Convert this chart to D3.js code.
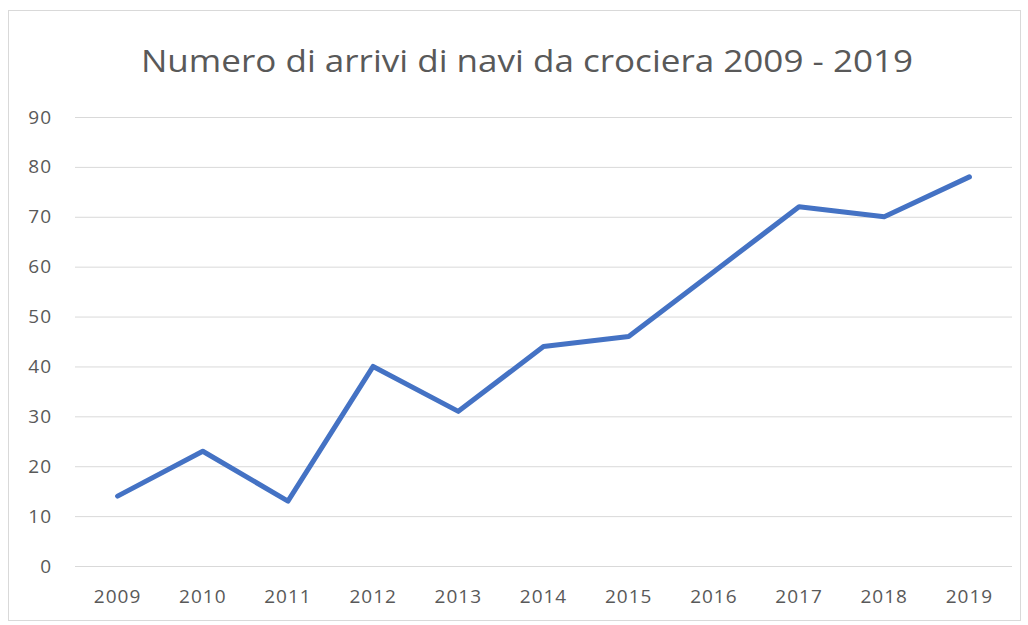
<!DOCTYPE html>
<html><head><meta charset="utf-8">
<script src="https://cdn.jsdelivr.net/npm/d3@7"></script>
<style>body{margin:0;background:#fff}svg{display:block}</style>
</head><body>
<svg id="c" width="1028" height="625"></svg>
<script>
const years = ["2009","2010","2011","2012","2013","2014","2015","2016","2017","2018","2019"];
const arrivals = [14, 23, 13, 40, 31, 44, 46, 59, 72, 70, 78];
const yTicks = [0,10,20,30,40,50,60,70,80,90];
const title = "Numero di arrivi di navi da crociera 2009 - 2019";

const svg = d3.select("#c");
const m = {left:75, right:1012, top:117, bottom:566};
const font = "'Open Sans', sans-serif";

svg.append("rect").attr("x",8.5).attr("y",10.5).attr("width",1012).attr("height",610)
  .attr("fill","#fff").attr("stroke","#d9d9d9").attr("stroke-width",1);

svg.append("text").attr("x",527).attr("y",72).attr("text-anchor","middle")
  .attr("font-family",font).attr("font-size",31).attr("font-weight",400).attr("fill","#595959")
  .attr("textLength",772).attr("lengthAdjust","spacingAndGlyphs").text(title);

const x = d3.scaleBand().domain(years).range([m.left, m.right]);
const y = d3.scaleLinear().domain([0,90]).range([m.bottom, m.top]);

const yAxis = svg.append("g").attr("transform",`translate(${m.left},0)`)
  .call(d3.axisLeft(y).tickValues(yTicks).tickSize(-(m.right-m.left)).tickPadding(23));
yAxis.select(".domain").remove();
yAxis.selectAll(".tick line").attr("stroke","#d9d9d9").attr("stroke-width",1);
yAxis.selectAll(".tick text").attr("font-family",font).attr("font-size",19).attr("letter-spacing","1px").attr("fill","#595959");

const xAxis = svg.append("g").attr("transform",`translate(0,${m.bottom})`)
  .call(d3.axisBottom(x).tickSize(0).tickPadding(24));
xAxis.select(".domain").remove();
xAxis.selectAll(".tick text").attr("font-family",font).attr("font-size",19).attr("letter-spacing","1px").attr("fill","#595959");

const line = d3.line().x((d,i)=>x(years[i])+x.bandwidth()/2).y(d=>y(d));
svg.append("path").datum(arrivals).attr("d",line).attr("fill","none")
  .attr("stroke","#4472C4").attr("stroke-width",5).attr("stroke-linejoin","round").attr("stroke-linecap","round");
</script>
</body></html>
